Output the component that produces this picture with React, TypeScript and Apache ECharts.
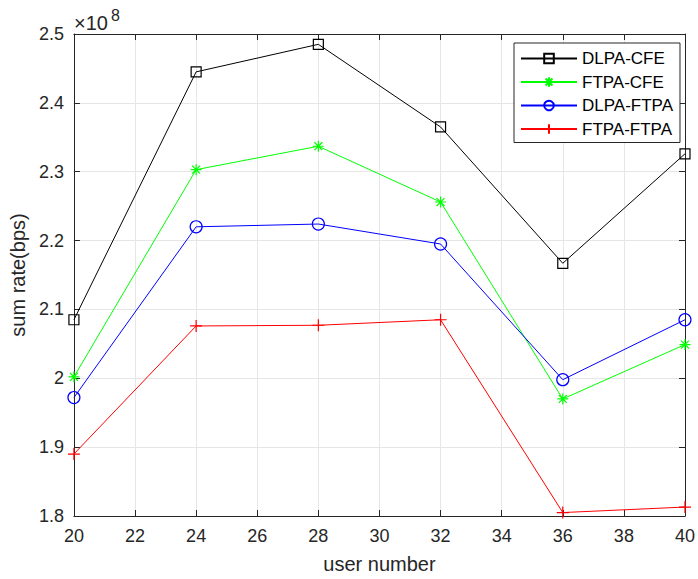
import React, { useEffect, useRef } from "react";
import * as echarts from "echarts";

const userNumbers = [20, 24, 28, 32, 36, 40];
const dlpaCfe = [2.085, 2.445, 2.485, 2.365, 2.167, 2.326];
const ftpaCfe = [2.002, 2.303, 2.337, 2.256, 1.970, 2.049];
const dlpaFtpa = [1.972, 2.220, 2.224, 2.195, 1.998, 2.085];
const ftpaFtpa = [1.890, 2.076, 2.077, 2.085, 1.805, 1.813];
const seriesNames = ["DLPA-CFE", "FTPA-CFE", "DLPA-FTPA", "FTPA-FTPA"];

const FONT = "'Liberation Sans', Arial, Helvetica, sans-serif";
const AX = "#262626";

const pairs = (ys: number[]) => userNumbers.map((x, i) => [x, ys[i]]);

export default function App() {
  const ref = useRef<HTMLDivElement>(null);
  useEffect(() => {
    if (!ref.current) return;
    const chart = echarts.init(ref.current, undefined, { renderer: "svg" });
    const star = "path://M0,-5L0,5M-5,0L5,0M-3.6,-3.6L3.6,3.6M-3.6,3.6L3.6,-3.6";
    const plus = "path://M0,-5L0,5M-5,0L5,0";
    const mk = (name: string, ys: number[], color: string, symbol: string, size: number, hollow: boolean) => ({
      name,
      type: "line",
      data: pairs(ys),
      symbol,
      symbolSize: size,
      showAllSymbol: true,
      lineStyle: { color, width: 1 },
      itemStyle: { color: hollow ? "rgba(255,255,255,0)" : color, borderColor: color, borderWidth: 1.2 },
      emphasis: { disabled: true },
      z: 3,
    });
    const common = {
      min: 20,
      max: 40,
      interval: 2,
    };
    chart.setOption({
      animation: false,
      backgroundColor: "#fff",
      textStyle: { fontFamily: FONT },
      grid: { left: 73, top: 34, width: 616, height: 486, containLabel: false },
      xAxis: [
        {
          type: "value",
          ...common,
          position: "bottom",
          name: "user number",
          nameLocation: "middle",
          nameGap: 38,
          nameTextStyle: { fontSize: 20, color: AX, fontFamily: FONT },
          axisLine: { lineStyle: { color: AX, width: 1 } },
          axisTick: { inside: true, length: 6, lineStyle: { color: AX } },
          axisLabel: { fontSize: 18, color: AX, margin: 11, fontFamily: FONT },
          splitLine: { show: true, lineStyle: { color: "#e6e6e6", width: 1 } },
        },
        {
          type: "value",
          ...common,
          position: "top",
          axisLine: { lineStyle: { color: AX, width: 1 } },
          axisTick: { inside: true, length: 6, lineStyle: { color: AX } },
          axisLabel: { show: false },
          splitLine: { show: false },
        },
      ],
      yAxis: [
        {
          type: "value",
          min: 1.8,
          max: 2.5,
          interval: 0.1,
          position: "left",
          name: "sum rate(bps)",
          nameLocation: "middle",
          nameGap: 40,
          nameTextStyle: { fontSize: 20, color: AX, fontFamily: FONT },
          axisLine: { show: true, lineStyle: { color: AX, width: 1 } },
          axisTick: { show: true, inside: true, length: 6, lineStyle: { color: AX } },
          axisLabel: {
            fontSize: 18,
            color: AX,
            margin: 10,
            fontFamily: FONT,
            formatter: (v: number) => String(Math.round(v * 10) / 10),
          },
          splitLine: { show: true, lineStyle: { color: "#e6e6e6", width: 1 } },
        },
        {
          type: "value",
          min: 1.8,
          max: 2.5,
          interval: 0.1,
          position: "right",
          axisLine: { show: true, lineStyle: { color: AX, width: 1 } },
          axisTick: { show: true, inside: true, length: 6, lineStyle: { color: AX } },
          axisLabel: { show: false },
          splitLine: { show: false },
        },
      ],
      legend: {
        orient: "vertical",
        left: 514,
        top: 43,
        data: seriesNames,
        itemWidth: 56,
        itemHeight: 12,
        itemGap: 6.5,
        padding: [7, 7, 5, 6],
        borderColor: AX,
        borderWidth: 1,
        backgroundColor: "#fff",
        textStyle: { fontSize: 17, color: "#000", fontFamily: FONT },
      },
      graphic: [
        {
          type: "text",
          left: 74,
          top: 13,
          style: { text: "×10", font: "20px 'Liberation Sans', Arial, sans-serif", fill: AX },
        },
        {
          type: "text",
          left: 111,
          top: 7,
          style: { text: "8", font: "16px 'Liberation Sans', Arial, sans-serif", fill: AX },
        },
      ],
      series: [
        mk(seriesNames[0], dlpaCfe, "#000000", "rect", 10, true),
        mk(seriesNames[1], ftpaCfe, "#00ff00", star, 11, false),
        mk(seriesNames[2], dlpaFtpa, "#0000ff", "circle", 12, true),
        mk(seriesNames[3], ftpaFtpa, "#ff0000", plus, 12, false),
      ],
    });
    return () => chart.dispose();
  }, []);
  return (
    <div
      ref={ref}
      style={{ position: "absolute", left: 0, top: 0, width: 698, height: 579, background: "#fff" }}
    />
  );
}
